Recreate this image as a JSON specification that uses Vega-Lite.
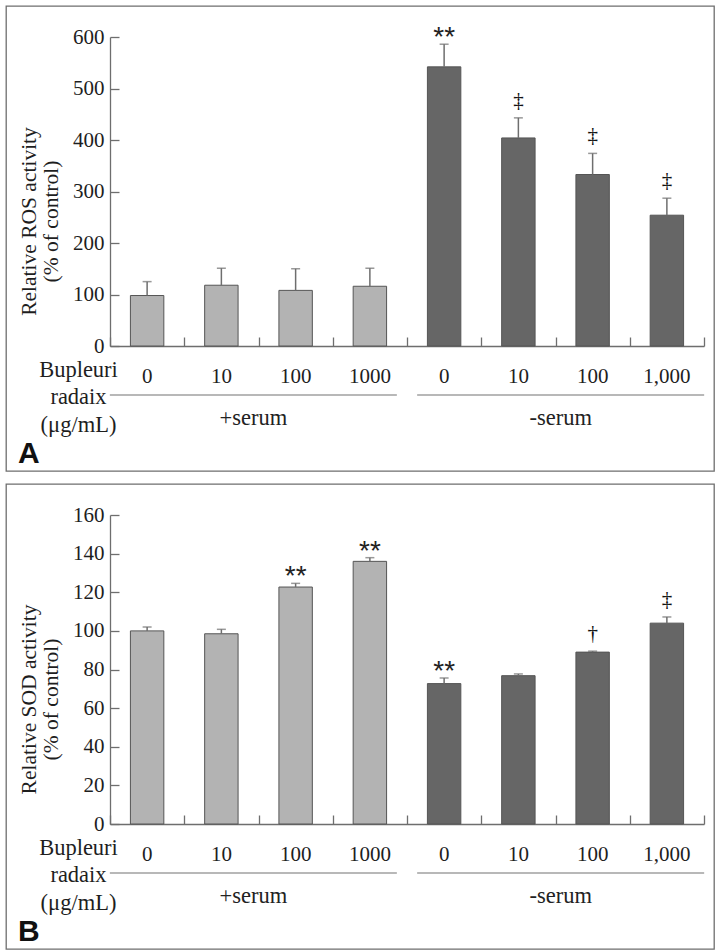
{
  "$schema": "https://vega.github.io/schema/vega-lite/v6.json",
  "background": "white",
  "padding": {"left": 5, "top": 5, "right": 0, "bottom": 0},
  "spacing": 11,
  "datasets": {
    "ros": [
      {"cond": "+serum 0", "serum": "+serum", "mean": 98, "upper": 125, "sig": ""},
      {"cond": "+serum 10", "serum": "+serum", "mean": 118, "upper": 151, "sig": ""},
      {"cond": "+serum 100", "serum": "+serum", "mean": 108, "upper": 150, "sig": ""},
      {"cond": "+serum 1000", "serum": "+serum", "mean": 116, "upper": 151, "sig": ""},
      {"cond": "-serum 0", "serum": "-serum", "mean": 542, "upper": 586, "sig": "**"},
      {"cond": "-serum 10", "serum": "-serum", "mean": 404, "upper": 443, "sig": "‡"},
      {"cond": "-serum 100", "serum": "-serum", "mean": 333, "upper": 374, "sig": "‡"},
      {"cond": "-serum 1,000", "serum": "-serum", "mean": 254, "upper": 287, "sig": "‡"}
    ],
    "sod": [
      {"cond": "+serum 0", "serum": "+serum", "mean": 100, "upper": 102, "sig": ""},
      {"cond": "+serum 10", "serum": "+serum", "mean": 98.5, "upper": 100.8, "sig": ""},
      {"cond": "+serum 100", "serum": "+serum", "mean": 122.7, "upper": 124.6, "sig": "**"},
      {"cond": "+serum 1000", "serum": "+serum", "mean": 136, "upper": 137.9, "sig": "**"},
      {"cond": "-serum 0", "serum": "-serum", "mean": 72.7, "upper": 75.6, "sig": "**"},
      {"cond": "-serum 10", "serum": "-serum", "mean": 76.8, "upper": 77.7, "sig": ""},
      {"cond": "-serum 100", "serum": "-serum", "mean": 89, "upper": 89.5, "sig": "†"},
      {"cond": "-serum 1,000", "serum": "-serum", "mean": 104, "upper": 107.2, "sig": "‡"}
    ],
    "groups": [
      {"serum": "+serum", "label": "+serum"},
      {"serum": "-serum", "label": "-serum"}
    ]
  },
  "vconcat": [
    {
      "width": 708,
      "height": 465,
      "title": {"text": "A", "orient": "bottom", "anchor": "start", "frame": "group", "offset": -32, "dx": 12, "font": "Liberation Sans", "fontSize": 30, "fontWeight": "bold", "color": "#111111"},
      "layer": [
        {
          "data": {"name": "ros"},
          "encoding": {
            "x": {
              "field": "cond", "type": "nominal", "sort": null,
              "scale": {"domain": ["+serum 0", "+serum 10", "+serum 100", "+serum 1000", "-serum 0", "-serum 10", "-serum 100", "-serum 1,000"], "range": [104, 698], "paddingInner": 0, "paddingOuter": 0},
              "axis": {"title": ["Bupleuri", "radaix", "(μg/mL)"], "labelExpr": "split(datum.label, ' ')[1]", "labelAngle": 0, "ticks": false, "tickSize": 0, "labelPadding": 19, "offset": -125, "titleX": 72, "titleY": 30, "titleAlign": "center", "titleBaseline": "alphabetic", "titleLineHeight": 27.5, "titleAngle": 0, "labelFont": "Liberation Serif", "labelFontSize": 21, "titleFont": "Liberation Serif", "titleFontSize": 22.5, "titleFontWeight": "normal", "labelColor": "#1e1e1e", "titleColor": "#1e1e1e", "domainColor": "#6e6e6e", "domainWidth": 1.3}
            },
            "y": {
              "field": "mean", "type": "quantitative",
              "scale": {"domain": [0, 600], "range": [340, 31], "nice": false},
              "axis": {"title": ["Relative ROS activity", "(% of control)"], "values": [0, 100, 200, 300, 400, 500, 600], "ticks": false, "tickSize": 0, "labelPadding": 6, "offset": -104, "titleX": -75, "titleY": 215, "titleAngle": 270, "titleAlign": "center", "titleBaseline": "alphabetic", "titleLineHeight": 22, "labelFont": "Liberation Serif", "labelFontSize": 21, "titleFont": "Liberation Serif", "titleFontSize": 21.5, "titleFontWeight": "normal", "labelColor": "#1e1e1e", "titleColor": "#1e1e1e", "domainColor": "#6e6e6e", "domainWidth": 1.3, "grid": false}
            }
          },
          "layer": [
            {
              "mark": {"type": "bar", "width": {"band": 0.45}, "stroke": "#555555", "strokeWidth": 1},
              "encoding": {"color": {"field": "serum", "type": "nominal", "scale": {"domain": ["+serum", "-serum"], "range": ["#b3b3b3", "#666666"]}, "legend": null}}
            },
            {
              "mark": {"type": "rule", "color": "#6e6e6e", "strokeWidth": 1.5},
              "encoding": {"y2": {"field": "upper"}}
            },
            {
              "mark": {"type": "tick", "orient": "horizontal", "size": 9, "thickness": 1.5, "color": "#6e6e6e"},
              "encoding": {"y": {"field": "upper", "type": "quantitative"}}
            },
            {
              "transform": [{"filter": "datum.sig == '**'"}],
              "mark": {"type": "text", "font": "Liberation Sans", "fontSize": 28, "baseline": "alphabetic", "dy": 2, "color": "#222222"},
              "encoding": {"y": {"field": "upper", "type": "quantitative"}, "text": {"field": "sig"}}
            },
            {
              "transform": [{"filter": "datum.sig == '‡' || datum.sig == '†'"}],
              "mark": {"type": "text", "font": "Liberation Serif", "fontSize": 21, "baseline": "alphabetic", "dy": -11, "color": "#111111"},
              "encoding": {"y": {"field": "upper", "type": "quantitative"}, "text": {"field": "sig"}}
            }
          ]
        },
        {
          "data": {"name": "groups"},
          "encoding": {
            "x": {"field": "serum", "type": "nominal", "sort": null, "scale": {"domain": ["+serum", "-serum"], "range": [104, 698], "paddingInner": 0.067, "paddingOuter": 0}, "axis": null},
            "y": {"datum": 0, "scale": {"domain": [0, 600], "range": [340, 31], "nice": false}, "axis": null}
          },
          "layer": [
            {"mark": {"type": "tick", "orient": "horizontal", "size": 287, "thickness": 1.3, "color": "#777777", "yOffset": 49}},
            {"mark": {"type": "text", "font": "Liberation Serif", "fontSize": 22.5, "baseline": "alphabetic", "yOffset": 79, "color": "#222222"}, "encoding": {"text": {"field": "label", "type": "nominal"}}}
          ]
        },
        {
          "data": {"name": "ros"},
          "mark": {"type": "point", "opacity": 0},
          "encoding": {
            "x": {"field": "cond", "type": "nominal", "sort": null,
              "scale": {"domain": ["+serum 0", "+serum 10", "+serum 100", "+serum 1000", "-serum 0", "-serum 10", "-serum 100", "-serum 1,000"], "range": [104, 698], "paddingInner": 0, "paddingOuter": 0},
              "axis": {"orient": "top", "offset": -340, "domain": false, "labels": false, "title": null, "tickBand": "extent", "tickSize": 9, "tickColor": "#6e6e6e", "tickWidth": 1.3}},
            "y": {"field": "mean", "type": "quantitative",
              "scale": {"domain": [0, 600], "range": [340, 31], "nice": false},
              "axis": {"orient": "right", "offset": -604, "domain": false, "labels": false, "title": null, "values": [0, 100, 200, 300, 400, 500, 600], "tickSize": 9, "tickColor": "#6e6e6e", "tickWidth": 1.3, "grid": false}}
          }
        }
      ],
      "resolve": {"scale": {"x": "independent", "y": "independent"}}
    },
    {
      "width": 708,
      "height": 465,
      "title": {"text": "B", "orient": "bottom", "anchor": "start", "frame": "group", "offset": -32, "dx": 12, "font": "Liberation Sans", "fontSize": 30, "fontWeight": "bold", "color": "#111111"},
      "layer": [
        {
          "data": {"name": "sod"},
          "encoding": {
            "x": {
              "field": "cond", "type": "nominal", "sort": null,
              "scale": {"domain": ["+serum 0", "+serum 10", "+serum 100", "+serum 1000", "-serum 0", "-serum 10", "-serum 100", "-serum 1,000"], "range": [104, 698], "paddingInner": 0, "paddingOuter": 0},
              "axis": {"title": ["Bupleuri", "radaix", "(μg/mL)"], "labelExpr": "split(datum.label, ' ')[1]", "labelAngle": 0, "ticks": false, "tickSize": 0, "labelPadding": 19, "offset": -125, "titleX": 72, "titleY": 30, "titleAlign": "center", "titleBaseline": "alphabetic", "titleLineHeight": 27.5, "titleAngle": 0, "labelFont": "Liberation Serif", "labelFontSize": 21, "titleFont": "Liberation Serif", "titleFontSize": 22.5, "titleFontWeight": "normal", "labelColor": "#1e1e1e", "titleColor": "#1e1e1e", "domainColor": "#6e6e6e", "domainWidth": 1.3}
            },
            "y": {
              "field": "mean", "type": "quantitative",
              "scale": {"domain": [0, 160], "range": [340, 31], "nice": false},
              "axis": {"title": ["Relative SOD activity", "(% of control)"], "values": [0, 20, 40, 60, 80, 100, 120, 140, 160], "ticks": false, "tickSize": 0, "labelPadding": 6, "offset": -104, "titleX": -75, "titleY": 215, "titleAngle": 270, "titleAlign": "center", "titleBaseline": "alphabetic", "titleLineHeight": 22, "labelFont": "Liberation Serif", "labelFontSize": 21, "titleFont": "Liberation Serif", "titleFontSize": 21.5, "titleFontWeight": "normal", "labelColor": "#1e1e1e", "titleColor": "#1e1e1e", "domainColor": "#6e6e6e", "domainWidth": 1.3, "grid": false}
            }
          },
          "layer": [
            {
              "mark": {"type": "bar", "width": {"band": 0.45}, "stroke": "#555555", "strokeWidth": 1},
              "encoding": {"color": {"field": "serum", "type": "nominal", "scale": {"domain": ["+serum", "-serum"], "range": ["#b3b3b3", "#666666"]}, "legend": null}}
            },
            {
              "mark": {"type": "rule", "color": "#6e6e6e", "strokeWidth": 1.5},
              "encoding": {"y2": {"field": "upper"}}
            },
            {
              "mark": {"type": "tick", "orient": "horizontal", "size": 9, "thickness": 1.5, "color": "#6e6e6e"},
              "encoding": {"y": {"field": "upper", "type": "quantitative"}}
            },
            {
              "transform": [{"filter": "datum.sig == '**'"}],
              "mark": {"type": "text", "font": "Liberation Sans", "fontSize": 28, "baseline": "alphabetic", "dy": 2, "color": "#222222"},
              "encoding": {"y": {"field": "upper", "type": "quantitative"}, "text": {"field": "sig"}}
            },
            {
              "transform": [{"filter": "datum.sig == '‡' || datum.sig == '†'"}],
              "mark": {"type": "text", "font": "Liberation Serif", "fontSize": 21, "baseline": "alphabetic", "dy": -11, "color": "#111111"},
              "encoding": {"y": {"field": "upper", "type": "quantitative"}, "text": {"field": "sig"}}
            }
          ]
        },
        {
          "data": {"name": "groups"},
          "encoding": {
            "x": {"field": "serum", "type": "nominal", "sort": null, "scale": {"domain": ["+serum", "-serum"], "range": [104, 698], "paddingInner": 0.067, "paddingOuter": 0}, "axis": null},
            "y": {"datum": 0, "scale": {"domain": [0, 160], "range": [340, 31], "nice": false}, "axis": null}
          },
          "layer": [
            {"mark": {"type": "tick", "orient": "horizontal", "size": 287, "thickness": 1.3, "color": "#777777", "yOffset": 49}},
            {"mark": {"type": "text", "font": "Liberation Serif", "fontSize": 22.5, "baseline": "alphabetic", "yOffset": 79, "color": "#222222"}, "encoding": {"text": {"field": "label", "type": "nominal"}}}
          ]
        },
        {
          "data": {"name": "sod"},
          "mark": {"type": "point", "opacity": 0},
          "encoding": {
            "x": {"field": "cond", "type": "nominal", "sort": null,
              "scale": {"domain": ["+serum 0", "+serum 10", "+serum 100", "+serum 1000", "-serum 0", "-serum 10", "-serum 100", "-serum 1,000"], "range": [104, 698], "paddingInner": 0, "paddingOuter": 0},
              "axis": {"orient": "top", "offset": -340, "domain": false, "labels": false, "title": null, "tickBand": "extent", "tickSize": 9, "tickColor": "#6e6e6e", "tickWidth": 1.3}},
            "y": {"field": "mean", "type": "quantitative",
              "scale": {"domain": [0, 160], "range": [340, 31], "nice": false},
              "axis": {"orient": "right", "offset": -604, "domain": false, "labels": false, "title": null, "values": [0, 20, 40, 60, 80, 100, 120, 140, 160], "tickSize": 9, "tickColor": "#6e6e6e", "tickWidth": 1.3, "grid": false}}
          }
        }
      ],
      "resolve": {"scale": {"x": "independent", "y": "independent"}}
    }
  ],
  "config": {
    "view": {"stroke": "#6e6e6e", "strokeWidth": 1.3}
  }
}
